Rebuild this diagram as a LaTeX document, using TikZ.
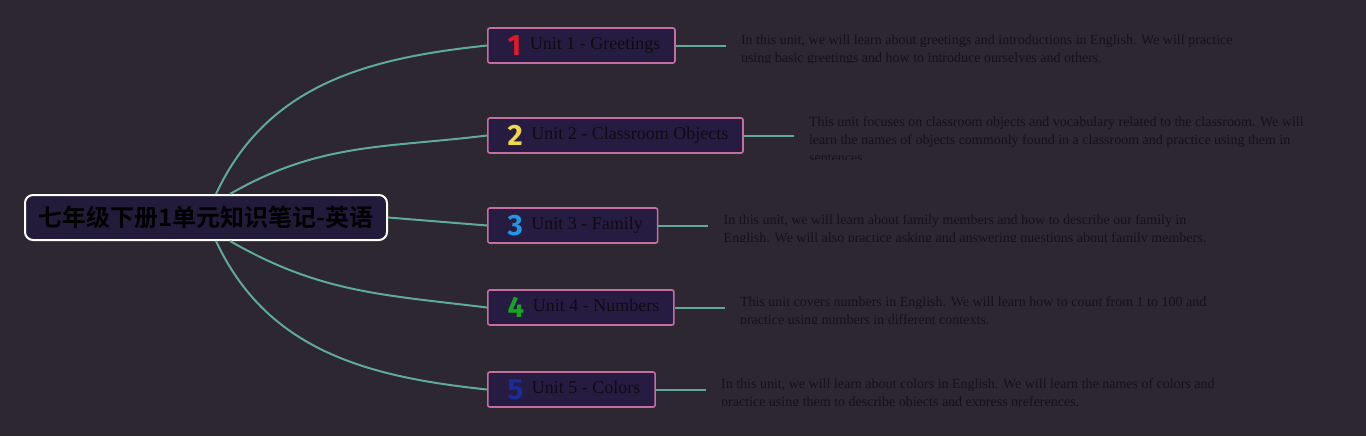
\documentclass[tikz,border=0pt]{standalone}
\usepackage{fontspec}
\setmainfont{Liberation Serif}
\newfontfamily\cjk{Noto Sans CJK SC}[BoldFont={* Bold}]
\newfontfamily\cifrefont{Fira Sans}
\usetikzlibrary{calc}
\definecolor{sfondo}{HTML}{2C2730}
\definecolor{radicefill}{HTML}{231B3A}
\definecolor{unitafill}{HTML}{261C42}
\definecolor{rosa}{HTML}{C46FA0}
\definecolor{verde}{HTML}{5FAA9B}
\definecolor{testo}{HTML}{0E0B12}
\definecolor{notatesto}{HTML}{15101A}
\definecolor{rosso}{HTML}{E0182C}
\definecolor{giallo}{HTML}{F2D64B}
\definecolor{azzurro}{HTML}{2196E6}
\definecolor{verdecifra}{HTML}{19A323}
\definecolor{blu}{HTML}{1C2B9C}
\newcommand\cifra[2]{\hspace{3.8pt}\raisebox{-4.5pt}{\cifrefont\bfseries\fontsize{22pt}{22pt}\selectfont\color{#1}#2}\hspace{6.5pt}}

\begin{document}
\begin{tikzpicture}[x=0.75pt,y=0.75pt,
    radice/.style={draw=white,line width=1.5pt,fill=radicefill,rounded corners=6pt,
        minimum width=271.5pt,minimum height=33.75pt,inner sep=0pt,
        font=\cjk\bfseries\fontsize{18pt}{20pt}\selectfont,text=black},
    unita/.style={draw=rosa,line width=1.2pt,fill=unitafill,rounded corners=1.5pt,anchor=west,
        minimum height=26.25pt,inner xsep=11pt,inner ysep=0pt,
        font=\fontsize{13.5pt}{16pt}\selectfont,text=testo},
    nota/.style={anchor=north west,inner sep=0pt,align=left,
        font=\fontsize{10.5pt}{13.5pt}\selectfont,text=notatesto},
    ramo/.style={draw=verde,line width=1.5pt}]
    %sfondo
    \fill[sfondo](0,0) rectangle (1366,-436);
    \useasboundingbox (0,0) rectangle (1366,-436);

    %nodo centrale
    \node[radice](root) at (206,-217.5){七年级下册1单元知识笔记-英语};

    %nodi delle unita
    \node[unita](u1) at (487,-45.5){\cifra{rosso}{1}Unit 1 - Greetings};
    \node[unita](u2) at (487,-135.5){\cifra{giallo}{2}Unit 2 - Classroom Objects};
    \node[unita](u3) at (487,-225.5){\cifra{azzurro}{3}Unit 3 - Family};
    \node[unita](u4) at (487,-307.5){\cifra{verdecifra}{4}Unit 4 - Numbers};
    \node[unita](u5) at (487,-389.5){\cifra{blu}{5}Unit 5 - Colors};

    %rami dal nodo centrale
    \draw[ramo]($(root.north)+(10,0)$) to[out=65,in=186](u1.west);
    \draw[ramo]($(root.north)+(24,0)$) to[out=30,in=187](u2.west);
    \draw[ramo](root.east)--(u3.west);
    \draw[ramo]($(root.south)+(24,0)$) to[out=-30,in=173](u4.west);
    \draw[ramo]($(root.south)+(10,0)$) to[out=-65,in=174](u5.west);

    %rami verso le note
    \coordinate(c1) at ($(u1.east)+(50,0)$);
    \coordinate(c2) at ($(u2.east)+(50,0)$);
    \coordinate(c3) at ($(u3.east)+(50,0)$);
    \coordinate(c4) at ($(u4.east)+(50,0)$);
    \coordinate(c5) at ($(u5.east)+(50,0)$);
    \draw[ramo](u1.east)--(c1);
    \draw[ramo](u2.east)--(c2);
    \draw[ramo](u3.east)--(c3);
    \draw[ramo](u4.east)--(c4);
    \draw[ramo](u5.east)--(c5);

    %note
    \begin{scope}
        \clip($(c1)+(5,20)$) rectangle ($(c1)+(700,-16.5)$);
        \node[nota](n1) at ($(c1)+(15,10.5)$){In this unit, we will learn about greetings and introductions in English. We will practice\\using basic greetings and how to introduce ourselves and others.};
    \end{scope}
    \begin{scope}
        \clip($(c2)+(5,28)$) rectangle ($(c2)+(600,-23.5)$);
        \node[nota](n2) at ($(c2)+(15,19.5)$){This unit focuses on classroom objects and vocabulary related to the classroom. We will\\learn the names of objects commonly found in a classroom and practice using them in\\sentences.};
    \end{scope}
    \begin{scope}
        \clip($(c3)+(5,20)$) rectangle ($(c3)+(700,-16)$);
        \node[nota](n3) at ($(c3)+(15,11)$){In this unit, we will learn about family members and how to describe our family in\\English. We will also practice asking and answering questions about family members.};
    \end{scope}
    \begin{scope}
        \clip($(c4)+(5,20)$) rectangle ($(c4)+(700,-16)$);
        \node[nota](n4) at ($(c4)+(15,11)$){This unit covers numbers in English. We will learn how to count from 1 to 100 and\\practice using numbers in different contexts.};
    \end{scope}
    \begin{scope}
        \clip($(c5)+(5,20)$) rectangle ($(c5)+(700,-16)$);
        \node[nota](n5) at ($(c5)+(15,11)$){In this unit, we will learn about colors in English. We will learn the names of colors and\\practice using them to describe objects and express preferences.};
    \end{scope}
\end{tikzpicture}
\end{document}
